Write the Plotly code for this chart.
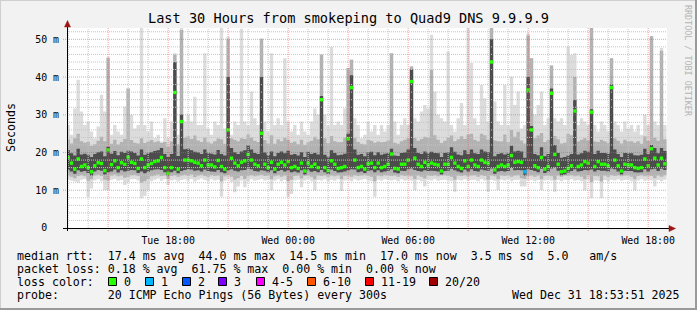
import pandas as pd
import plotly.graph_objects as go

# ---------------- data ----------------
start_time = "2025-12-30 13:00:00"   # first 10-minute step
step_minutes = 10
view_start = "2025-12-30 12:56:30"
view_end = "2025-12-31 18:56:30"

# median round-trip time per step (ms)
median_ms = [
    18.7, 17.2, 15.6, 18.3, 16.3, 16.7, 16.0, 14.9, 16.5, 17.3,
    17.1, 15.2, 20.7, 16.8, 17.8, 16.0, 17.3, 16.9, 18.8, 17.4,
    17.1, 15.8, 18.3, 16.0, 16.7, 17.1, 17.6, 17.8, 18.7, 16.0,
    14.5, 16.0, 35.9, 15.6, 28.2, 18.0, 18.0, 17.8, 17.4, 17.2,
    16.5, 18.0, 16.7, 16.7, 16.2, 17.9, 16.3, 15.6, 26.0, 18.5,
    17.2, 16.5, 17.4, 17.8, 19.5, 18.0, 16.9, 16.5, 25.1, 16.9,
    16.0, 17.4, 15.6, 16.9, 17.4, 16.7, 17.6, 16.0, 16.3, 15.8,
    17.2, 15.1, 17.2, 16.3, 16.9, 16.0, 34.0, 16.0, 15.2, 17.8,
    16.9, 15.8, 16.0, 16.3, 23.6, 37.2, 18.0, 16.0, 16.3, 15.6,
    17.0, 17.2, 16.0, 17.2, 16.0, 16.3, 16.9, 19.6, 15.8, 15.6,
    16.9, 16.9, 18.0, 38.8, 18.5, 16.9, 16.3, 17.4, 16.7, 17.2,
    16.9, 16.7, 15.1, 16.9, 16.9, 18.7, 17.2, 16.3, 15.8, 17.8,
    16.3, 18.0, 16.7, 16.3, 18.0, 17.4, 17.2, 44.0, 15.4, 16.3,
    16.7, 16.3, 16.7, 19.2, 17.4, 17.6, 17.4, 14.9, 36.6, 26.0,
    16.5, 16.0, 18.7, 15.6, 16.3, 35.7, 19.5, 16.9, 14.9, 15.1,
    15.8, 16.5, 31.0, 16.3, 16.7, 17.6, 17.2, 30.7, 16.3, 17.6,
    16.9, 16.9, 16.5, 37.2, 18.0, 16.5, 15.1, 16.9, 16.7, 16.7,
    16.0, 15.8, 16.0, 18.3, 16.5, 21.0, 18.5, 16.7, 18.5, 17.0,
]

# outer (light) smoke: lowest and highest ping per step (ms)
light_lo = [
    12.8, 12.5, 12.3, 12.0, 12.8, 13.0, 8.3, 10.5, 12.6, 12.9,
    12.4, 10.1, 10.1, 12.8, 13.0, 12.5, 12.7, 11.4, 12.2, 12.9,
    13.0, 12.6, 7.9, 8.5, 10.0, 12.4, 12.8, 13.1, 12.5, 12.9,
    11.4, 12.6, 12.8, 12.3, 12.7, 12.9, 12.5, 13.0, 12.3, 12.8,
    13.1, 12.7, 12.4, 12.9, 12.6, 12.8, 8.3, 12.5, 12.9, 12.2,
    9.5, 11.0, 12.6, 10.8, 12.4, 12.9, 12.5, 12.7, 13.0, 12.6,
    12.8, 10.0, 12.5, 12.9, 12.4, 12.7, 8.3, 9.0, 12.6, 12.8,
    10.8, 12.6, 12.9, 12.4, 10.0, 12.7, 12.6, 12.9, 12.4, 12.8,
    12.5, 12.9, 9.8, 12.6, 12.8, 12.4, 12.9, 12.6, 12.8, 13.0,
    12.6, 12.4, 8.3, 12.8, 12.5, 12.9, 12.7, 12.6, 12.8, 12.4,
    12.9, 12.6, 12.8, 12.5, 10.1, 12.7, 12.4, 11.0, 12.8, 12.6,
    12.9, 12.5, 12.7, 12.8, 12.6, 12.4, 9.6, 12.8, 12.6, 12.9,
    12.5, 12.7, 12.8, 12.4, 12.9, 12.6, 9.6, 12.7, 12.5, 10.1,
    12.8, 12.6, 12.9, 12.4, 12.7, 12.8, 11.0, 11.0, 12.6, 12.8,
    12.4, 12.7, 10.1, 12.6, 12.8, 12.5, 9.6, 12.7, 12.4, 12.8,
    12.6, 12.9, 12.5, 12.7, 12.4, 10.0, 12.8, 7.9, 12.6, 12.5,
    7.9, 12.7, 12.4, 12.8, 12.6, 12.9, 12.5, 12.7, 12.8, 12.4,
    10.0, 12.6, 12.9, 12.5, 12.8, 12.6, 11.0, 12.7, 12.4, 12.8,
]
light_hi = [
    27.3, 24.7, 31.7, 39.3, 30.9, 27.3, 28.2, 25.6, 23.8, 26.9,
    35.3, 30.9, 45.4, 24.7, 27.3, 25.6, 24.7, 32.2, 37.0, 30.0,
    26.4, 27.3, 53.5, 27.3, 25.6, 28.2, 23.8, 24.7, 22.9, 29.1,
    23.8, 28.2, 46.3, 24.7, 53.5, 28.2, 30.0, 28.2, 34.8, 27.3,
    27.3, 46.3, 26.4, 24.7, 28.2, 27.3, 53.5, 26.4, 50.7, 24.7,
    28.2, 27.3, 52.8, 28.2, 27.3, 36.2, 29.1, 27.3, 50.3, 28.2,
    25.6, 46.3, 27.3, 29.1, 27.3, 45.0, 28.2, 25.6, 27.3, 24.7,
    28.2, 25.6, 24.7, 28.2, 31.7, 30.0, 46.0, 30.0, 27.3, 48.0,
    27.3, 28.2, 27.3, 31.7, 42.4, 44.6, 29.1, 27.3, 23.8, 24.7,
    28.2, 25.6, 27.3, 24.7, 27.3, 25.6, 27.3, 46.3, 28.2, 24.7,
    27.3, 29.1, 27.3, 42.8, 29.1, 28.2, 30.9, 32.6, 31.7, 51.2,
    36.2, 30.0, 29.1, 28.2, 46.8, 27.3, 25.6, 29.1, 33.1, 27.3,
    53.5, 43.7, 29.1, 27.3, 37.9, 34.4, 28.2, 53.5, 33.5, 28.2,
    27.3, 37.9, 27.3, 40.1, 32.6, 36.2, 26.4, 27.3, 51.6, 45.0,
    30.0, 32.6, 36.2, 27.3, 29.1, 43.2, 29.1, 28.2, 29.1, 27.3,
    48.1, 45.9, 46.3, 27.3, 29.1, 28.2, 27.3, 53.5, 27.3, 25.6,
    28.2, 27.3, 25.6, 45.0, 28.2, 27.3, 25.6, 28.2, 26.4, 27.3,
    25.6, 27.3, 24.7, 30.0, 27.3, 50.8, 28.2, 27.3, 47.7, 27.3,
]

# middle (medium grey) smoke band (ms)
mid_lo = [
    13.9, 13.6, 13.2, 13.8, 14.0, 13.7, 12.5, 12.9, 13.9, 14.1,
    13.8, 12.8, 12.6, 13.9, 14.2, 13.7, 13.9, 13.3, 13.6, 14.0,
    14.1, 13.8, 12.0, 12.4, 13.0, 13.7, 13.9, 14.2, 13.8, 13.9,
    13.0, 13.8, 14.0, 13.6, 13.9, 14.1, 13.8, 14.2, 13.5, 13.9,
    14.1, 13.8, 13.6, 14.0, 13.8, 13.9, 12.3, 13.7, 14.0, 13.6,
    12.8, 13.2, 13.8, 13.0, 13.7, 14.0, 13.7, 13.9, 14.1, 13.8,
    13.9, 12.9, 13.7, 14.0, 13.6, 13.9, 12.4, 12.8, 13.8, 13.9,
    13.1, 13.8, 14.0, 13.6, 12.9, 13.9, 13.8, 14.0, 13.6, 13.9,
    13.7, 14.0, 12.9, 13.8, 13.9, 13.6, 14.0, 13.8, 13.9, 14.1,
    13.8, 13.6, 12.4, 13.9, 13.7, 14.0, 13.9, 13.8, 13.9, 13.6,
    14.0, 13.8, 13.9, 13.7, 12.9, 13.9, 13.6, 13.1, 13.9, 13.8,
    14.0, 13.7, 13.9, 14.0, 13.8, 13.6, 12.8, 13.9, 13.8, 14.0,
    13.7, 13.9, 14.0, 13.6, 14.0, 13.8, 12.8, 13.9, 13.7, 12.9,
    13.9, 13.8, 14.0, 13.6, 13.9, 14.0, 13.2, 13.0, 13.8, 13.9,
    13.6, 13.9, 12.9, 13.8, 13.9, 13.7, 12.8, 13.9, 13.6, 13.9,
    13.8, 14.0, 13.7, 13.9, 13.6, 12.9, 14.0, 12.2, 13.8, 13.7,
    12.3, 13.9, 13.6, 14.0, 13.8, 14.0, 13.7, 13.9, 14.0, 13.6,
    12.9, 13.8, 14.0, 13.7, 13.9, 13.8, 13.2, 13.9, 13.6, 14.0,
]
mid_hi = [
    23.5, 22.4, 23.8, 25.0, 23.0, 22.6, 22.8, 21.8, 22.2, 23.1,
    24.2, 23.0, 45.0, 22.3, 23.4, 22.1, 22.8, 23.6, 37.0, 23.3,
    22.6, 22.4, 23.8, 22.5, 22.9, 23.3, 22.7, 23.0, 22.5, 22.8,
    21.5, 22.9, 46.0, 22.2, 52.5, 24.0, 24.3, 23.6, 24.5, 23.2,
    22.8, 24.0, 22.7, 22.4, 23.0, 23.7, 23.5, 22.3, 50.0, 23.8,
    23.4, 23.0, 23.8, 23.6, 24.8, 24.0, 23.1, 22.8, 50.0, 23.3,
    22.4, 24.6, 22.3, 23.5, 23.0, 23.9, 23.4, 22.6, 22.9, 22.2,
    23.4, 22.0, 22.7, 23.1, 24.2, 23.5, 46.0, 23.8, 22.5, 24.4,
    23.0, 22.7, 22.8, 24.0, 42.4, 44.6, 23.9, 22.8, 22.3, 22.1,
    23.3, 23.1, 22.6, 22.9, 22.7, 22.8, 23.2, 46.3, 22.6, 22.3,
    23.0, 23.4, 23.8, 42.8, 23.9, 23.1, 23.6, 24.2, 24.0, 41.9,
    24.6, 23.4, 22.5, 23.1, 24.0, 24.5, 23.0, 23.5, 24.3, 23.6,
    24.8, 25.0, 23.4, 23.0, 25.0, 24.6, 23.4, 53.0, 23.2, 23.0,
    22.9, 24.8, 22.7, 26.0, 24.2, 25.5, 23.2, 22.4, 51.0, 45.0,
    23.8, 24.5, 25.2, 22.8, 23.3, 43.0, 24.4, 23.5, 22.4, 22.6,
    25.0, 24.6, 40.0, 22.9, 23.4, 23.8, 23.2, 53.0, 22.9, 22.8,
    23.4, 23.0, 22.6, 45.0, 23.8, 23.1, 22.4, 23.4, 22.9, 23.0,
    22.6, 23.0, 22.3, 24.3, 23.1, 50.8, 24.0, 23.1, 47.0, 23.5,
]

# inner (dark) smoke band (ms)
dark_lo = [
    15.4, 15.0, 14.4, 15.3, 14.9, 15.1, 14.6, 13.9, 15.0, 15.4,
    15.2, 14.2, 14.8, 15.0, 15.5, 14.7, 15.3, 15.0, 15.2, 15.4,
    15.3, 14.6, 15.0, 14.5, 14.9, 15.3, 15.5, 15.6, 15.4, 14.8,
    13.9, 14.8, 15.2, 14.5, 15.1, 15.4, 15.6, 15.5, 15.2, 15.3,
    15.0, 15.5, 15.1, 15.0, 14.9, 15.4, 14.8, 14.5, 15.3, 15.6,
    15.2, 15.0, 15.3, 15.4, 15.8, 15.6, 15.1, 15.0, 15.3, 15.2,
    14.8, 15.3, 14.5, 15.1, 15.4, 15.0, 15.3, 14.8, 15.0, 14.7,
    15.3, 14.2, 15.3, 14.9, 15.1, 14.8, 15.4, 14.8, 14.3, 15.5,
    15.1, 14.7, 14.8, 15.0, 15.3, 15.6, 15.5, 14.8, 15.0, 14.6,
    15.2, 15.3, 14.8, 15.3, 14.8, 15.0, 15.2, 15.6, 14.7, 14.5,
    15.2, 15.1, 15.6, 15.8, 15.4, 15.1, 15.0, 15.3, 15.1, 15.2,
    15.1, 15.0, 14.2, 15.1, 15.2, 15.7, 15.3, 15.0, 14.7, 15.5,
    15.0, 15.6, 15.1, 15.0, 15.5, 15.3, 15.2, 15.8, 14.4, 15.0,
    15.1, 15.0, 15.1, 15.9, 15.3, 15.4, 15.3, 13.9, 15.6, 15.4,
    15.1, 14.8, 15.7, 14.6, 15.0, 15.8, 16.0, 15.2, 14.0, 14.2,
    14.7, 15.1, 15.6, 15.0, 15.1, 15.4, 15.3, 15.5, 15.0, 15.4,
    15.2, 15.2, 15.0, 15.8, 15.6, 15.0, 14.2, 15.2, 15.1, 15.1,
    14.8, 14.7, 14.8, 15.6, 15.0, 15.6, 15.7, 15.1, 15.7, 15.4,
]
dark_hi = [
    20.6, 19.8, 19.2, 21.0, 19.5, 19.7, 19.4, 18.8, 19.6, 20.1,
    20.3, 19.0, 21.5, 19.7, 20.4, 19.3, 20.2, 19.9, 20.5, 20.3,
    19.9, 19.2, 20.8, 19.4, 19.8, 20.1, 20.4, 20.6, 21.2, 19.6,
    18.8, 19.6, 44.0, 19.1, 30.0, 20.9, 21.0, 20.6, 20.2, 20.0,
    19.6, 20.8, 19.9, 19.7, 19.5, 20.7, 19.6, 19.2, 40.0, 21.2,
    20.1, 19.6, 20.3, 20.6, 22.0, 20.8, 19.9, 19.6, 40.0, 20.0,
    19.3, 20.3, 19.0, 19.9, 20.3, 19.8, 20.5, 19.4, 19.6, 19.2,
    20.1, 18.8, 20.2, 19.6, 19.9, 19.5, 35.0, 19.4, 18.9, 20.6,
    19.9, 19.3, 19.4, 19.7, 25.0, 40.5, 20.8, 19.4, 19.6, 19.0,
    20.0, 20.2, 19.3, 20.1, 19.4, 19.7, 19.9, 21.0, 19.2, 19.1,
    19.9, 20.0, 20.8, 42.0, 21.2, 19.9, 19.6, 20.3, 19.8, 20.2,
    19.9, 19.8, 18.8, 19.9, 20.0, 21.4, 20.2, 19.5, 19.3, 20.6,
    19.6, 20.8, 19.8, 19.6, 20.8, 20.3, 20.1, 50.0, 19.0, 19.6,
    19.8, 19.5, 19.8, 21.8, 20.3, 20.5, 20.3, 18.6, 40.0, 27.0,
    19.6, 19.3, 21.4, 19.0, 19.6, 37.0, 22.0, 19.9, 18.6, 18.8,
    19.2, 19.6, 34.0, 19.5, 19.8, 20.5, 20.2, 31.5, 19.6, 20.5,
    19.9, 19.9, 19.7, 38.0, 20.8, 19.6, 18.8, 19.9, 19.8, 19.8,
    19.3, 19.2, 19.4, 21.0, 19.6, 22.0, 21.2, 19.8, 21.2, 20.4,
]

# steps that lost pings: step index -> lost pings (of 20)
loss_pings = {137: 1}

x_tick_times = ["2025-12-30 18:00", "2025-12-31 00:00", "2025-12-31 06:00",
                "2025-12-31 12:00", "2025-12-31 18:00"]
x_tick_labels = ["Tue 18:00", "Wed 00:00", "Wed 06:00", "Wed 12:00", "Wed 18:00"]
y_tick_values = [0, 10, 20, 30, 40, 50]
y_tick_labels = ["0\u00a0\u00a0", "10 m", "20 m", "30 m", "40 m", "50 m"]
y_max = 53.0

loss_legend_labels = ["0", "1", "2", "3", "4-5", "6-10", "11-19", "20/20"]
loss_legend_colors = ["#26ff00", "#00b8ff", "#0059ff", "#7e00ff",
                      "#ff00ff", "#ff5500", "#ff0000", "#a10000"]
loss_upper_bounds = [0, 1, 2, 3, 5, 10, 19, 20]

title_text = "Last 30 Hours from smokeping to Quad9 DNS 9.9.9.9"
stats_rows = [
    "median rtt:  17.4 ms avg  44.0 ms max  14.5 ms min  17.0 ms now  3.5 ms sd  5.0   am/s",
    "packet loss: 0.18 % avg  61.75 % max  0.00 % min  0.00 % now",
    "loss color:",
    "probe:       20 ICMP Echo Pings (56 Bytes) every 300s",
]
stamp_text = "Wed Dec 31 18:53:51 2025"
side_text = "RRDTOOL / TOBI OETIKER"

# ---------------- layout constants ----------------
W, H = 697, 310
PL, PT, PW, PH = 67, 28, 600, 200
MONO = "DejaVu Sans Mono"
LIGHT, MID, DARK = "#dcdcdc", "#b2b2b2", "#4c4c4c"


def pxx(x):
    return (x - PL) / PW


def pxy(y):
    return (PT + PH - y) / PH


def nb(s):
    return s.replace(" ", "\u00a0")


step = pd.Timedelta(minutes=step_minutes)
times = pd.date_range(start_time, periods=len(median_ms), freq=f"{step_minutes}min")
edges = list(times - step / 2) + [times[-1] + step / 2]


def ext(vals):
    return list(vals) + [vals[-1]]


fig = go.Figure()


def band(lo, hi, color):
    fig.add_trace(go.Scatter(x=edges, y=ext(lo), mode="lines", line=dict(width=0, shape="hv"),
                             hoverinfo="skip", showlegend=False))
    fig.add_trace(go.Scatter(x=edges, y=ext(hi), mode="lines", line=dict(width=0, shape="hv"),
                             fill="tonexty", fillcolor=color, hoverinfo="skip", showlegend=False))


band(light_lo, light_hi, LIGHT)
band(mid_lo, mid_hi, MID)
band(dark_lo, dark_hi, DARK)


def loss_color(n):
    for ub, c in zip(loss_upper_bounds, loss_legend_colors):
        if n <= ub:
            return c
    return loss_legend_colors[-1]


med_colors = [loss_color(loss_pings.get(i, 0)) for i in range(len(median_ms))]
fig.add_trace(go.Scatter(x=times, y=median_ms, mode="markers",
                         marker=dict(symbol="square", size=3.4, color=med_colors, line=dict(width=0)),
                         hoverinfo="skip", showlegend=False))

shapes = []
DOT = "1px,1px"
# horizontal grid
for v in range(2, int(y_max) + 1, 2):
    major = v % 10 == 0
    shapes.append(dict(type="line", xref="paper", yref="y",
                       x0=pxx(63) if major else 0, x1=1, y0=v, y1=v,
                       line=dict(color="rgba(235,80,80,0.55)" if major else "#c4c4c4", width=1, dash=DOT),
                       layer="above"))
# vertical grid
for t in pd.date_range("2025-12-30 13:00", "2025-12-31 18:00", freq="1h"):
    major = t.hour % 3 == 0
    shapes.append(dict(type="line", xref="x", yref="paper", x0=t, x1=t,
                       y0=pxy(231) if major else 0, y1=1,
                       line=dict(color="rgba(235,80,80,0.55)" if major else "#c4c4c4", width=1, dash=DOT),
                       layer="above"))
# axis lines
shapes.append(dict(type="line", xref="paper", yref="paper", x0=pxx(67.5), x1=pxx(67.5),
                   y0=pxy(231), y1=pxy(22), line=dict(color="#000000", width=1), layer="above"))
shapes.append(dict(type="line", xref="paper", yref="paper", x0=pxx(63), x1=pxx(671),
                   y0=pxy(228.5), y1=pxy(228.5), line=dict(color="#000000", width=1), layer="above"))
# axis arrows
ARROW = "#9c1414"
shapes.append(dict(type="path", xref="paper", yref="paper",
                   path=f"M {pxx(64.5)},{pxy(27)} L {pxx(67.5)},{pxy(20.5)} L {pxx(70.5)},{pxy(27)} Z",
                   fillcolor=ARROW, line=dict(color=ARROW, width=0.5), layer="above"))
shapes.append(dict(type="path", xref="paper", yref="paper",
                   path=f"M {pxx(669)},{pxy(225.5)} L {pxx(675.5)},{pxy(228.5)} L {pxx(669)},{pxy(231.5)} Z",
                   fillcolor=ARROW, line=dict(color=ARROW, width=0.5), layer="above"))
# outer frame
shapes.append(dict(type="line", xref="paper", yref="paper", x0=pxx(0), x1=pxx(697), y0=pxy(0.5), y1=pxy(0.5),
                   line=dict(color="#cfcfcf", width=1)))
shapes.append(dict(type="line", xref="paper", yref="paper", x0=pxx(0.5), x1=pxx(0.5), y0=pxy(0), y1=pxy(310),
                   line=dict(color="#cfcfcf", width=1)))
shapes.append(dict(type="line", xref="paper", yref="paper", x0=pxx(0), x1=pxx(697), y0=pxy(309), y1=pxy(309),
                   line=dict(color="#9a9a9a", width=2)))
shapes.append(dict(type="line", xref="paper", yref="paper", x0=pxx(696), x1=pxx(696), y0=pxy(0), y1=pxy(310),
                   line=dict(color="#9a9a9a", width=2)))

# loss colour swatches
swatch_x = [108, 145, 182, 218, 256, 307, 365, 429]
annotations = []
for sx, lab, col in zip(swatch_x, loss_legend_labels, loss_legend_colors):
    shapes.append(dict(type="rect", xref="paper", yref="paper",
                       x0=pxx(sx + 0.5), x1=pxx(sx + 8.5), y0=pxy(277.5), y1=pxy(285.5),
                       fillcolor=col, line=dict(color="#000000", width=1)))
    annotations.append(dict(xref="paper", yref="paper", x=pxx(sx + 14), y=pxy(282), text=nb(lab),
                            xanchor="left", yanchor="middle", showarrow=False,
                            font=dict(family=MONO, size=11.6, color="#000000")))

row_y = [256, 269, 282, 295]
for txt, yy in zip(stats_rows, row_y):
    annotations.append(dict(xref="paper", yref="paper", x=pxx(15), y=pxy(yy), text=nb(txt),
                            xanchor="left", yanchor="middle", showarrow=False,
                            font=dict(family=MONO, size=11.6, color="#000000")))
annotations.append(dict(xref="paper", yref="paper", x=pxx(682), y=pxy(295), text=nb(stamp_text),
                        xanchor="right", yanchor="middle", showarrow=False,
                        font=dict(family=MONO, size=11.6, color="#000000")))
annotations.append(dict(xref="paper", yref="paper", x=pxx(348), y=pxy(18), text=nb(title_text),
                        xanchor="center", yanchor="middle", showarrow=False,
                        font=dict(family=MONO, size=13.6, color="#000000")))
annotations.append(dict(xref="paper", yref="paper", x=pxx(11), y=pxy(128), text="Seconds",
                        textangle=-90, xanchor="center", yanchor="middle", showarrow=False,
                        font=dict(family=MONO, size=11.6, color="#000000")))
annotations.append(dict(xref="paper", yref="paper", x=pxx(688), y=pxy(61), text=nb(side_text),
                        textangle=90, xanchor="center", yanchor="middle", showarrow=False,
                        font=dict(family=MONO, size=8.4, color="#b4b4b4")))

fig.update_layout(
    width=W, height=H,
    margin=dict(l=PL, r=W - PL - PW, t=PT, b=H - PT - PH, pad=0),
    paper_bgcolor="#f2f2f2", plot_bgcolor="#ffffff",
    showlegend=False,
    shapes=shapes, annotations=annotations,
    xaxis=dict(type="date", range=[view_start, view_end], showgrid=False, zeroline=False,
               showline=False, tickmode="array", tickvals=x_tick_times, ticktext=x_tick_labels,
               ticks="outside", ticklen=3, tickcolor="rgba(0,0,0,0)",
               tickfont=dict(family=MONO, size=9.9, color="#000000"), fixedrange=True),
    yaxis=dict(range=[0, y_max], showgrid=False, zeroline=False, showline=False,
               tickmode="array", tickvals=y_tick_values, ticktext=y_tick_labels,
               ticks="outside", ticklen=5, tickcolor="rgba(0,0,0,0)",
               tickfont=dict(family=MONO, size=9.9, color="#000000"), fixedrange=True),
)

fig.write_html("out.html")
